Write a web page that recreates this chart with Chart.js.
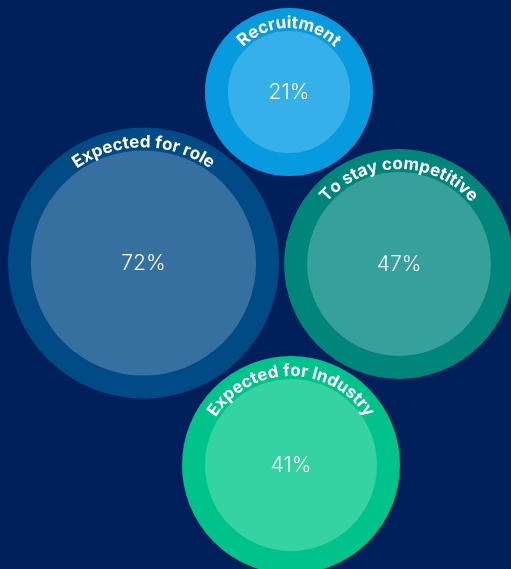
<!DOCTYPE html>
<html>
<head>
<meta charset="utf-8">
<script src="https://cdn.jsdelivr.net/npm/chart.js@4.4.1/dist/chart.umd.min.js"></script>
<style>
  html, body { margin: 0; padding: 0; background: #00205b; }
  #wrap { width: 511px; height: 569px; position: relative; }
</style>
</head>
<body>
<div id="wrap"><canvas id="bubbles"></canvas></div>
<script>
// data
const labels = ['Recruitment', 'Expected for role', 'To stay competitive', 'Expected for Industry'];
const values = [21, 72, 47, 41];
// bubble centres, in the hidden axes' units
const xPos = [289, 143.5, 399, 291];
const yPos = [92, 263, 264, 465];

const ringColors = ['#079ade', '#004a85', '#00857a', '#00c389'];
const fillColors = ['#36b0e8', '#3670a0', '#36a09a', '#35d2a2'];
const RING = 23;

// outer radius grows with the value
const bubbleRadius = v => 25.8 * Math.pow(v, 0.388);

const arcLabels = {
    id: 'arcLabels',
    afterDatasetsDraw(chart) {
        const ctx = chart.ctx;
        const meta = chart.getDatasetMeta(0);
        meta.data.forEach((el, i) => {
            const outer = el.options.radius + RING / 2;
            const inner = outer - RING;
            ctx.save();
            ctx.fillStyle = '#ffffff';
            ctx.textAlign = 'center';
            ctx.textBaseline = 'middle';
            ctx.font = '300 21px Inter';
            ctx.fillText(values[i] + '%', el.x, el.y + 1);

            // curved label along the top of the ring
            ctx.font = '700 17px Inter';
            ctx.textBaseline = 'alphabetic';
            const spacing = 0;
            const rb = inner + 3;
            const chars = labels[i].split('');
            const widths = chars.map(c => ctx.measureText(c).width);
            const total = widths.reduce((a, b) => a + b, 0) + spacing * (chars.length - 1);
            let acc = 0;
            const start = -Math.PI / 2 - total / rb / 2;
            chars.forEach((c, k) => {
                const a = start + (acc + widths[k] / 2) / rb;
                ctx.save();
                ctx.translate(el.x + rb * Math.cos(a), el.y + rb * Math.sin(a));
                ctx.rotate(a + Math.PI / 2);
                ctx.fillText(c, 0, 0);
                ctx.restore();
                acc += widths[k] + spacing;
            });
            ctx.restore();
        });
    }
};

new Chart(document.getElementById('bubbles'), {
    type: 'bubble',
    data: {
        datasets: [{
            data: values.map((v, i) => ({ x: xPos[i], y: yPos[i], r: bubbleRadius(v) - RING / 2 })),
            backgroundColor: fillColors,
            borderColor: ringColors,
            borderWidth: RING,
            clip: false
        }]
    },
    options: {
        responsive: true,
        maintainAspectRatio: false,
        animation: false,
        events: [],
        layout: { padding: 0, autoPadding: false },
        plugins: { legend: { display: false }, tooltip: { enabled: false } },
        scales: {
            x: { type: 'linear', min: 0, max: 511, display: false },
            y: { type: 'linear', min: 0, max: 569, reverse: true, display: false }
        }
    },
    plugins: [arcLabels]
});
</script>
</body>
</html>
